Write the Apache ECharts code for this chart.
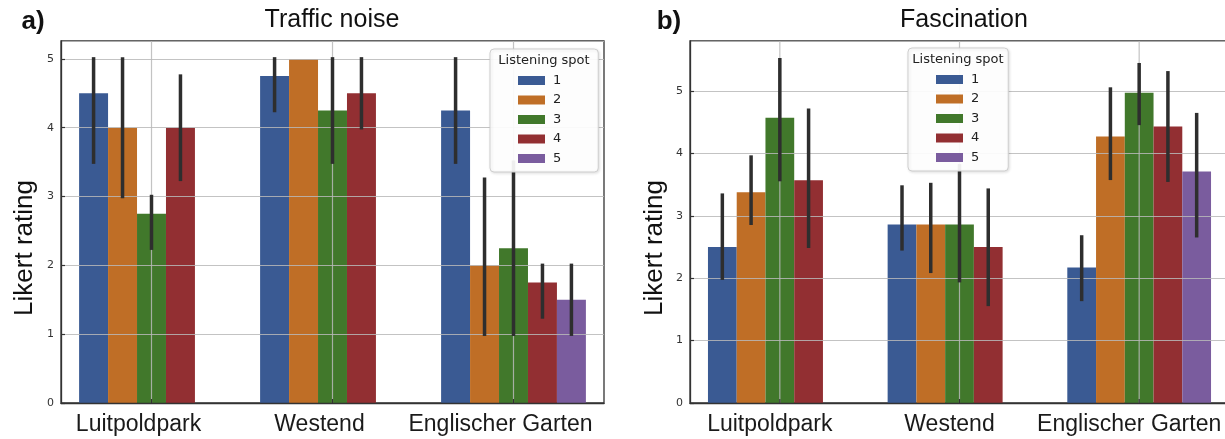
<!DOCTYPE html>
<html>
<head>
<meta charset="utf-8">
<script src="https://cdn.jsdelivr.net/npm/echarts@6/dist/echarts.min.js"></script>
<style>
html,body{margin:0;padding:0;background:#fff;}
#chart{width:1225px;height:439px;}
</style>
</head>
<body>
<div id="chart"></div>
<script>
// ---- data ----
const categories = ['Luitpoldpark', 'Westend', 'Englischer Garten'];
const spots = ['1', '2', '3', '4', '5'];
const yTicks = [0, 1, 2, 3, 4, 5];

// Traffic noise: mean per spot (index = category)
const noiseMean = [
  [4.5, 4.75, 4.25],
  [4.0, 5.0, 2.0],
  [2.75, 4.25, 2.25],
  [4.0, 4.5, 1.75],
  [null, null, 1.5]
];
const noiseLow = [
  [3.5, 4.25, 3.5],
  [3.0, 5.0, 1.0],
  [2.25, 3.5, 1.0],
  [3.25, 4.0, 1.25],
  [null, null, 1.0]
];
const noiseHigh = [
  [5.0, 5.0, 5.0],
  [5.0, 5.0, 3.25],
  [3.0, 5.0, 3.5],
  [4.75, 5.0, 2.0],
  [null, null, 2.0]
];

// Fascination
const fascMean = [
  [2.5, 2.86, 2.17],
  [3.375, 2.86, 4.27],
  [4.57, 2.86, 4.97],
  [3.57, 2.5, 4.43],
  [null, null, 3.71]
];
const fascLow = [
  [2.0, 2.47, 1.66],
  [2.88, 2.11, 3.60],
  [3.58, 1.96, 4.48],
  [2.51, 1.58, 3.57],
  [null, null, 2.68]
];
const fascHigh = [
  [3.33, 3.46, 2.66],
  [3.94, 3.50, 5.03],
  [5.50, 3.80, 5.42],
  [4.69, 3.41, 5.29],
  [null, null, 4.62]
];

const colors = ['#3A5A93', '#BF6E26', '#41782B', '#922F32', '#7A5C9E'];
const panelMax = [5.26, 5.8];

// ---- helpers ----
const gridLineColor = 'rgba(185,185,185,0.85)';

function barSeries(panel, means) {
  return spots.map((s, i) => ({
    type: 'bar',
    name: s,
    xAxisIndex: panel,
    yAxisIndex: panel,
    data: means[i].map(v => (v == null ? '-' : v)),
    barGap: '0%',
    barCategoryGap: '20%',
    itemStyle: { color: colors[i] },
    emphasis: { disabled: true },
    z: 2
  }));
}

function errSeries(panel, low, high) {
  const data = [];
  for (let s = 0; s < spots.length; s++) {
    for (let c = 0; c < categories.length; c++) {
      if (low[s][c] == null) continue;
      data.push([c, low[s][c], high[s][c], s]);
    }
  }
  return {
    type: 'custom',
    xAxisIndex: panel,
    yAxisIndex: panel,
    data: data,
    encode: { x: 0, y: [1, 2] },
    z: 5,
    silent: true,
    renderItem: function (params, api) {
      const c = api.value(0), lo = api.value(1), hi = api.value(2), h = api.value(3);
      if (lo === hi) return null;
      const band = api.size([1, 0])[0];
      const bw = band * 0.8 / spots.length;
      const off = (h - (spots.length - 1) / 2) * bw;
      const p1 = api.coord([c, lo]);
      const p2 = api.coord([c, hi]);
      return {
        type: 'line',
        shape: { x1: p1[0] + off, y1: p1[1], x2: p2[0] + off, y2: p2[1] },
        style: { stroke: '#2e2e2e', lineWidth: 3.5, lineCap: 'square' }
      };
    }
  };
}

function vGridSeries(panel) {
  return {
    type: 'custom',
    xAxisIndex: panel,
    yAxisIndex: panel,
    data: categories.map((c, i) => [i, 0]),
    encode: { x: 0, y: 1 },
    z: 3,
    silent: true,
    renderItem: function (params, api) {
      const c = api.value(0);
      const p1 = api.coord([c, 0]);
      const p2 = api.coord([c, panelMax[panel]]);
      return {
        type: 'group',
        children: [
          { type: 'line', shape: { x1: p1[0], y1: p1[1], x2: p2[0], y2: p2[1] },
            style: { stroke: gridLineColor, lineWidth: 1.2 } },
          { type: 'line', shape: { x1: p1[0], y1: p1[1], x2: p1[0], y2: p1[1] - 4 },
            style: { stroke: '#333', lineWidth: 1.2 } }
        ]
      };
    }
  };
}

function xAxisOpt(panel, shiftPad) {
  return {
    type: 'category',
    gridIndex: panel,
    data: categories,
    z: 3,
    axisLine: { show: true, lineStyle: { color: '#333', width: 1.3 } },
    axisTick: { show: false },
    splitLine: { show: false },
    axisLabel: {
      interval: 0,
      hideOverlap: false,
      fontSize: 23, fontFamily: 'Liberation Sans, Arial, sans-serif', color: '#1a1a1a', margin: 10,
      padding: [0, shiftPad, 0, 0]
    }
  };
}

function yAxisOpt(panel) {
  return {
    type: 'value',
    gridIndex: panel,
    min: 0,
    max: panelMax[panel],
    interval: 1,
    z: 3,
    axisLine: { show: true, lineStyle: { color: '#333', width: 1.3 } },
    axisTick: { show: true, inside: true, length: 4, lineStyle: { color: '#333', width: 1.2 } },
    splitLine: { show: true, lineStyle: { color: gridLineColor, width: 1.2 } },
    axisLabel: {
      showMaxLabel: false,
      fontSize: 11, fontFamily: 'DejaVu Sans, sans-serif', color: '#333', margin: 7,
      formatter: v => (yTicks.indexOf(v) >= 0 ? String(v) : '')
    }
  };
}

function legendOpt(left, top, rightPad) {
  return {
    data: spots,
    orient: 'vertical',
    left: left,
    top: top,
    z: 10,
    icon: 'rect',
    itemWidth: 27,
    itemHeight: 9,
    itemGap: 6.5,
    padding: [25, rightPad, 7, 28],
    backgroundColor: 'rgba(255,255,255,0.92)',
    borderColor: '#cfcfcf',
    borderWidth: 1,
    borderRadius: 4,
    shadowBlur: 3,
    shadowColor: 'rgba(0,0,0,0.12)',
    shadowOffsetX: 1,
    shadowOffsetY: 1,
    selectedMode: false,
    textStyle: { fontSize: 13, fontFamily: 'DejaVu Sans, sans-serif', color: '#222', lineHeight: 13, padding: [0, 0, 0, 3] }
  };
}

function txt(x, y, text, font, opts) {
  opts = opts || {};
  return {
    type: 'text',
    x: x, y: y,
    rotation: opts.rotation || 0,
    z: 20,
    silent: true,
    style: {
      text: text,
      font: font,
      fill: opts.fill || '#111',
      align: 'center', verticalAlign: 'middle',
      textAlign: 'center', textVerticalAlign: 'middle'
    }
  };
}

const chart = echarts.init(document.getElementById('chart'), null, { renderer: 'canvas' });
const option = {
  animation: false,
  backgroundColor: '#fff',
  grid: [
    { left: 61, top: 41, width: 543, height: 362, show: true, borderColor: '#333', borderWidth: 1.3, backgroundColor: 'transparent', containLabel: false, outerBoundsMode: 'none' },
    { left: 690, top: 41, width: 539, height: 362, show: true, borderColor: '#333', borderWidth: 1.3, backgroundColor: 'transparent', containLabel: false, outerBoundsMode: 'none' }
  ],
  xAxis: [xAxisOpt(0, 26), xAxisOpt(1, 20)],
  yAxis: [yAxisOpt(0), yAxisOpt(1)],
  legend: [legendOpt(490, 49, 37), legendOpt(908, 48, 29)],
  series: [
    ...barSeries(0, noiseMean),
    vGridSeries(0),
    errSeries(0, noiseLow, noiseHigh),
    ...barSeries(1, fascMean),
    vGridSeries(1),
    errSeries(1, fascLow, fascHigh)
  ],
  graphic: {
    elements: [
      txt(33, 22, 'a)', 'bold 26px "Liberation Sans", Arial, sans-serif'),
      txt(669, 22, 'b)', 'bold 26px "Liberation Sans", Arial, sans-serif'),
      txt(332, 20, 'Traffic noise', '25px "Liberation Sans", Arial, sans-serif'),
      txt(964, 20, 'Fascination', '25px "Liberation Sans", Arial, sans-serif'),
      txt(25, 248, 'Likert rating', '26px "Liberation Sans", Arial, sans-serif', { rotation: Math.PI / 2 }),
      txt(655, 248, 'Likert rating', '26px "Liberation Sans", Arial, sans-serif', { rotation: Math.PI / 2 }),
      txt(544, 61, 'Listening spot', '13px "DejaVu Sans", sans-serif', { fill: '#222' }),
      txt(958, 60, 'Listening spot', '13px "DejaVu Sans", sans-serif', { fill: '#222' })
    ]
  }
};
chart.setOption(option);
</script>
</body>
</html>
